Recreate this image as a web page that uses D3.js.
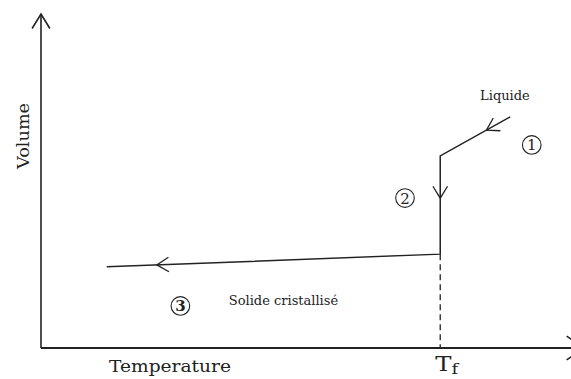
<!DOCTYPE html>
<html>
<head>
<meta charset="utf-8">
<script src="https://cdn.jsdelivr.net/npm/d3@7"></script>
<style>
  html, body { margin: 0; padding: 0; background: #fff; }
  svg { display: block; }
  text { font-family: "DejaVu Serif", "Liberation Serif", serif; fill: #222; }
</style>
</head>
<body>
<svg id="chart" width="571" height="379"></svg>
<script>
// Cooling path of a substance that crystallises at Tf (abstract units 0..100)
const pathTemperature = [89.2, 75.9, 75.9, 12.5];
const pathVolume      = [69.2, 57.5, 28.1, 24.3];
const meltingTemperature = 75.9;

// Stage markers and phase names
const stageNumbers     = ["1", "2", "3"];
const stageTemperature = [93.3, 69.2, 26.5];
const stageVolume      = [60.8, 44.9, 12.6];

const phaseNames       = ["Liquide", "Solide cristallisé"];
const phaseTemperature = [88.2, 35.7];
const phaseVolume      = [74.3, 12.9];
const phaseAnchor      = ["middle", "start"];

// Direction arrows: position along each segment of the path (0..1)
const arrowAlong = [0.34, 0.43, 0.85];

const W = 571, H = 379;
const svg = d3.select("#chart");

const x = d3.scaleLinear().domain([0, 100]).range([41, 567]);
const y = d3.scaleLinear().domain([0, 100]).range([348, 14]);

const ink = "#222";

// Open arrowhead drawn as two strokes meeting at the tip
function arrowHead(g, tip, dirAngle, len, spread, width) {
  const a1 = dirAngle + Math.PI - spread, a2 = dirAngle + Math.PI + spread;
  g.append("path")
    .attr("d", `M${tip[0] + len * Math.cos(a1)},${tip[1] + len * Math.sin(a1)}L${tip[0]},${tip[1]}L${tip[0] + len * Math.cos(a2)},${tip[1] + len * Math.sin(a2)}`)
    .attr("fill", "none").attr("stroke", ink).attr("stroke-width", width)
    .attr("stroke-linejoin", "miter");
}

// Axes
const axes = svg.append("g");
axes.append("line")
  .attr("x1", x(0)).attr("x2", x(0)).attr("y1", y(0)).attr("y2", y(100))
  .attr("stroke", ink).attr("stroke-width", 1.6);
arrowHead(axes, [x(0), y(100)], -Math.PI / 2, 17, 0.55, 1.6);

axes.append("line")
  .attr("x1", x(0)).attr("x2", W).attr("y1", y(0)).attr("y2", y(0))
  .attr("stroke", ink).attr("stroke-width", 2.2);
arrowHead(axes, [x(100) + 17, y(0)], 0, 21, 0.6, 1.6);

// Axis titles
svg.append("text")
  .attr("transform", `translate(${x(0) - 12},${y(63.5)}) rotate(-90)`)
  .attr("text-anchor", "middle")
  .attr("font-size", 17)
  .attr("textLength", 66).attr("lengthAdjust", "spacingAndGlyphs")
  .text("Volume");

svg.append("text")
  .attr("x", 109).attr("y", y(0) + 24)
  .attr("font-size", 16.5)
  .attr("textLength", 122).attr("lengthAdjust", "spacingAndGlyphs")
  .text("Temperature");

const tf = svg.append("text")
  .attr("transform", `translate(${x(meltingTemperature) - 5},${y(0) + 23}) scale(1.25,1)`)
  .attr("font-size", 19.5);
tf.append("tspan").text("T");
tf.append("tspan").attr("font-size", 14.5).attr("dy", 3).text("f");

// Guide from the plateau down to Tf
svg.append("line")
  .attr("x1", x(meltingTemperature)).attr("x2", x(meltingTemperature))
  .attr("y1", y(pathVolume[2])).attr("y2", y(0))
  .attr("stroke", ink).attr("stroke-width", 1.3)
  .attr("stroke-dasharray", "6,4");

// Cooling curve
const pts = pathTemperature.map((t, i) => [x(t), y(pathVolume[i])]);
svg.append("path")
  .attr("d", d3.line()(pts))
  .attr("fill", "none").attr("stroke", ink).attr("stroke-width", 1.5);

// Direction arrows along the curve
arrowAlong.forEach((f, i) => {
  const p0 = pts[i], p1 = pts[i + 1];
  const tip = [p0[0] + (p1[0] - p0[0]) * f, p0[1] + (p1[1] - p0[1]) * f];
  const ang = Math.atan2(p1[1] - p0[1], p1[0] - p0[0]);
  arrowHead(svg, tip, ang, 14, 0.55, 1.3);
});

// Circled stage numbers
const stages = svg.append("g");
stageNumbers.forEach((s, i) => {
  const cx = x(stageTemperature[i]), cy = y(stageVolume[i]);
  stages.append("circle")
    .attr("cx", cx).attr("cy", cy).attr("r", 9.3)
    .attr("fill", "none").attr("stroke", ink).attr("stroke-width", 1.1);
  stages.append("text")
    .attr("x", cx).attr("y", cy + 5.5)
    .attr("text-anchor", "middle")
    .attr("font-size", 15)
    .attr("font-weight", i === 2 ? "bold" : "normal")
    .text(s);
});

// Phase names
phaseNames.forEach((n, i) => {
  svg.append("text")
    .attr("x", x(phaseTemperature[i])).attr("y", y(phaseVolume[i]))
    .attr("text-anchor", phaseAnchor[i])
    .attr("font-size", 13)
    .text(n);
});
</script>
</body>
</html>
